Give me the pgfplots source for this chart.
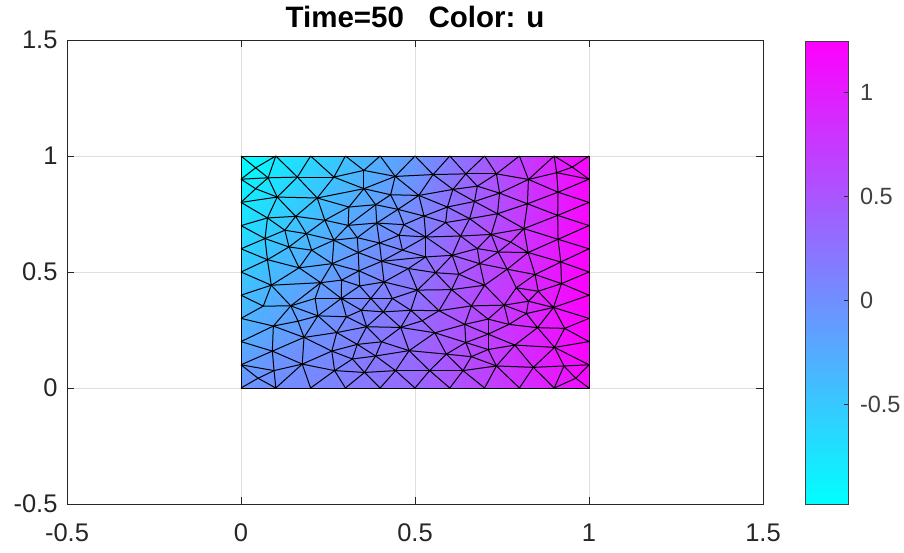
\documentclass[border=0pt]{standalone}
\usepackage{pgfplots}
\usepackage{pgfplotstable}
\usepackage{fontspec}
\setmainfont{Liberation Sans}
\pgfplotsset{compat=1.18}
\definecolor{axc}{RGB}{38,38,38}
\definecolor{cbc}{RGB}{64,64,64}
\definecolor{grd}{RGB}{223,223,223}
\pgfplotstableread{
x y
0 1
.1 1
.2 1
.3 1
.4 1
.5 1
.6 1
.7 1
.8 1
.9 1
1 1
0 0
.1 0
.2 0
.3 0
.4 0
.5 0
.6 0
.7 0
.8 0
.9 0
1 0
0 .9
0 .8
0 .7
0 .6
0 .5
0 .4
0 .3
0 .2
0 .1
1 .9
1 .8
1 .7
1 .6
1 .5
1 .4
1 .3
1 .2
1 .1
.042 .949
.042 .859
.078 .906
.162 .909
.267 .909
.353 .938
.443 .912
.552 .920
.646 .923
.734 .923
.826 .899
.907 .928
.952 .952
.104 .823
.219 .819
.353 .859
.511 .830
.609 .856
.679 .870
.743 .840
.911 .844
.310 .780
.387 .790
.451 .770
.593 .780
.671 .804
.823 .794
.526 .741
.657 .730
.737 .751
.910 .744
.076 .733
.157 .740
.241 .723
.308 .701
.390 .711
.468 .704
.588 .713
.813 .687
.126 .680
.188 .665
.069 .644
.267 .637
.334 .648
.398 .625
.454 .658
.531 .651
.631 .655
.719 .662
.775 .629
.911 .641
.138 .608
.203 .594
.337 .584
.464 .594
.531 .565
.607 .572
.679 .601
.739 .586
.825 .584
.076 .553
.262 .536
.404 .546
.404 .546
.919 .543
.686 .536
.167 .518
.339 .505
.481 .515
.559 .497
.765 .512
.845 .489
.087 .443
.229 .454
.289 .465
.341 .440
.411 .457
.507 .422
.605 .424
.700 .443
.791 .432
.854 .417
.921 .450
.064 .353
.143 .354
.213 .386
.288 .386
.373 .386
.435 .386
.488 .335
.569 .333
.662 .354
.756 .357
.826 .374
.898 .347
.221 .311
.346 .335
.409 .328
.303 .307
.820 .321
.710 .297
.521 .290
.093 .267
.361 .264
.459 .261
.643 .274
.770 .274
.852 .260
.930 .257
.557 .238
.710 .232
.181 .218
.275 .239
.334 .188
.404 .199
.646 .196
.787 .185
.901 .175
.090 .159
.261 .159
.483 .161
.590 .146
.662 .135
.320 .125
.387 .138
.176 .103
.734 .095
.840 .089
.928 .095
.095 .075
.269 .075
.355 .067
.444 .075
.542 .075
.638 .075
.049 .042
.962 .042
.626 .490
.710 .166
.164 .288
.430 .833
}\verts
\pgfplotstableread{
x y u
0 1 -.98
.25 1 -.55
.5 1 -.1
.75 1 .55
1 1 1.2
0 .75 -.75
.25 .75 -.35
.5 .75 .05
.75 .75 .6
1 .75 1.2
0 .5 -.5
.25 .5 -.15
.5 .5 .2
.75 .5 .7
1 .5 1.24
0 .25 -.3
.25 .25 0
.5 .25 .3
.75 .25 .75
1 .25 1.25
0 0 -.05
.25 0 .1
.5 0 .35
.75 0 .75
1 0 1.15
}\field
\pgfplotstableread{
x y u
0 -.98 -.98
1 -.98 -.98
0 1.245 1.245
1 1.245 1.245
}\cbar
\begin{document}
\begin{tikzpicture}
\useasboundingbox (0,0) rectangle (904pt,552pt);
\begin{axis}[
  at={(67pt,48pt)}, anchor=south west,
  scale only axis, width=696pt, height=464pt,
  xmin=-0.5, xmax=1.5, ymin=-0.5, ymax=1.5,
  xtick={-0.5,0,0.5,1,1.5}, ytick={-0.5,0,0.5,1,1.5},
  xticklabels={-0.5,0,0.5,1,1.5}, yticklabels={-0.5,0,0.5,1,1.5},
  tick align=inside, major tick length=7pt, tick style={axc, line width=.7pt},
  axis line style={axc, line width=.8pt},
  tick label style={font=\fontsize{25.5}{28}\selectfont, text=axc},
  xticklabel style={yshift=-16pt}, yticklabel style={xshift=-6pt},
  grid=major, grid style={grd, line width=.8pt},
  title={\textbf{Time=50\ \ \ Color: u}},
  title style={font=\fontsize{29.5}{32}\selectfont, text=black, at={(0.5,1)}, anchor=base, yshift=6.5pt},
  colormap={cool}{rgb=(0,1,1) rgb=(1,0,1)},
  point meta min=-0.98, point meta max=1.245,
]
\addplot[surf, shader=interp, mesh/rows=5, mesh/cols=5, point meta=\thisrow{u}] table[x=x,y=y] {\field};
\addplot[patch, patch type=line, point meta=0, line width=1pt, colormap={blk}{color=(black) color=(black)}, table/row sep=\\,
 patch table={0 40\\1 40\\22 40\\40 42\\1 42\\1 43\\2 43\\2 44\\3 44\\3 45\\4 45\\4 46\\5 46\\5 47\\6 47\\6 48\\7 48\\7 49\\8 49\\8 50\\9 50\\9 51\\9 52\\10 52\\52 51\\52 31\\51 31\\51 50\\22 42\\42 43\\43 44\\44 45\\45 46\\46 47\\47 48\\48 49\\49 50\\22 41\\41 53\\41 42\\41 23\\23 53\\42 53\\43 53\\43 54\\44 54\\53 54\\44 55\\45 55\\46 55\\54 55\\55 61\\55 62\\180 55\\180 46\\180 56\\180 62\\180 63\\46 56\\62 63\\63 56\\63 67\\54 61\\54 73\\53 71\\53 72\\54 72\\71 72\\72 73\\61 73\\61 74\\61 62\\62 74\\62 75\\63 75\\63 76\\23 71\\24 71\\71 79\\71 81\\24 81\\25 81\\72 79\\72 80\\73 80\\79 80\\79 81\\79 91\\80 91\\80 92\\80 82\\73 82\\73 74\\74 82\\74 83\\74 75\\75 83\\75 84\\75 85\\75 76\\76 85\\81 91\\81 100\\25 100\\26 100\\91 100\\91 92\\92 82\\82 83\\83 84\\83 93\\82 93\\84 93\\84 85\\84 94\\85 94\\92 106\\91 106\\100 106\\92 101\\82 101\\93 101\\93 107\\93 102\\84 102\\94 102\\101 107\\102 107\\102 108\\102 95\\95 108\\94 95\\108 109\\47 57\\48 57\\48 58\\49 58\\49 59\\57 58\\58 59\\47 56\\56 57\\56 67\\56 64\\57 64\\57 65\\64 65\\58 65\\65 59\\59 50\\50 66\\50 60\\51 60\\31 60\\60 66\\60 32\\60 70\\66 70\\70 32\\70 33\\70 78\\70 90\\59 66\\59 69\\65 68\\65 69\\68 69\\66 69\\66 78\\69 78\\69 88\\68 88\\64 67\\64 77\\64 68\\67 77\\77 68\\77 87\\68 87\\87 88\\88 78\\78 90\\78 89\\78 99\\88 89\\89 99\\88 98\\89 98\\90 99\\33 90\\34 90\\99 104\\104 90\\104 34\\104 35\\67 86\\77 86\\86 87\\87 97\\87 96\\88 97\\97 96\\97 98\\98 99\\86 96\\86 95\\95 96\\96 105\\97 105\\98 105\\98 110\\99 110\\99 111\\104 111\\104 122\\76 67\\76 86\\85 86\\94 86\\95 109\\96 109\\96 177\\109 177\\105 177\\105 119\\177 119\\177 118\\105 110\\110 119\\110 120\\110 111\\111 120\\111 121\\111 122\\122 121\\122 35\\122 36\\122 134\\121 134\\120 121\\119 118\\118 117\\117 109\\118 109\\119 131\\118 131\\118 130\\117 130\\119 132\\120 132\\131 132\\132 133\\120 133\\121 133\\133 134\\134 36\\134 37\\134 147\\134 148\\134 139\\133 139\\132 139\\132 140\\132 146\\131 140\\131 145\\130 145\\130 131\\140 145\\140 146\\140 150\\145 150\\145 155\\145 149\\150 146\\150 155\\150 156\\150 178\\178 156\\178 162\\178 155\\178 166\\155 162\\166 162\\166 156\\146 139\\146 147\\139 147\\147 148\\147 156\\147 157\\148 157\\148 37\\148 38\\157 38\\157 39\\157 168\\157 167\\157 156\\156 167\\166 167\\167 168\\168 39\\168 176\\168 20\\176 39\\176 20\\176 21\\167 19\\167 20\\166 18\\166 19\\162 174\\161 174\\161 162\\161 155\\161 149\\161 160\\161 173\\173 174\\174 166\\174 17\\174 18\\173 16\\173 17\\173 172\\172 16\\172 15\\172 160\\160 173\\149 155\\149 160\\26 112\\27 112\\27 123\\28 123\\28 142\\29 142\\29 158\\30 158\\30 169\\30 175\\11 175\\12 175\\175 169\\169 12\\169 165\\165 12\\165 13\\165 170\\13 170\\14 170\\14 171\\15 171\\170 171\\171 172\\169 158\\158 165\\158 151\\158 142\\142 151\\142 179\\135 179\\124 179\\151 179\\142 124\\123 112\\123 124\\112 124\\112 106\\112 113\\112 100\\124 113\\124 135\\135 151\\135 125\\125 113\\125 126\\124 125\\113 114\\114 126\\113 106\\106 101\\101 113\\101 114\\114 107\\114 115\\115 107\\115 116\\107 116\\102 116\\116 108\\116 117\\108 117\\115 127\\126 127\\116 127\\116 128\\127 128\\117 128\\117 129\\128 129\\115 126\\126 136\\126 138\\126 135\\127 136\\136 138\\136 137\\127 137\\128 137\\129 137\\135 138\\135 152\\138 152\\138 143\\136 143\\137 143\\137 144\\129 144\\143 144\\143 154\\144 154\\143 153\\143 152\\151 152\\152 153\\151 159\\152 159\\153 159\\153 154\\154 164\\153 164\\153 163\\159 163\\163 164\\159 170\\163 170\\163 171\\164 171\\164 172\\164 160\\154 160\\144 160\\159 165\\151 165\\129 130\\129 141\\141 130\\141 149\\141 144\\144 149\\113 126\\}] table[x=x,y=y] {\verts};
\addplot[black, line width=.9pt] coordinates {(0,0)(1,0)(1,1)(0,1)(0,0)};
\end{axis}
\begin{axis}[
  at={(805pt,48pt)}, anchor=south west,
  scale only axis, width=43.5pt, height=463pt,
  xmin=0, xmax=1, ymin=-0.98, ymax=1.245,
  xtick=\empty, ytick={-0.5,0,0.5,1}, yticklabels={-0.5,0,0.5,1},
  ytick pos=right, yticklabel pos=right,
  tick align=inside, major tick length=4.5pt,
  tick style={axc, line width=.7pt},
  axis line style={cbc, line width=.9pt},
  yticklabel style={font=\fontsize{23.5}{26}\selectfont, text=cbc, xshift=8pt},
  colormap={cool}{rgb=(0,1,1) rgb=(1,0,1)},
  point meta min=-0.98, point meta max=1.245,
  axis on top,
]
\addplot[surf, shader=interp, mesh/rows=2, mesh/cols=2, point meta=\thisrow{u}] table[x=x,y=y] {\cbar};
\end{axis}
\end{tikzpicture}
\end{document}
